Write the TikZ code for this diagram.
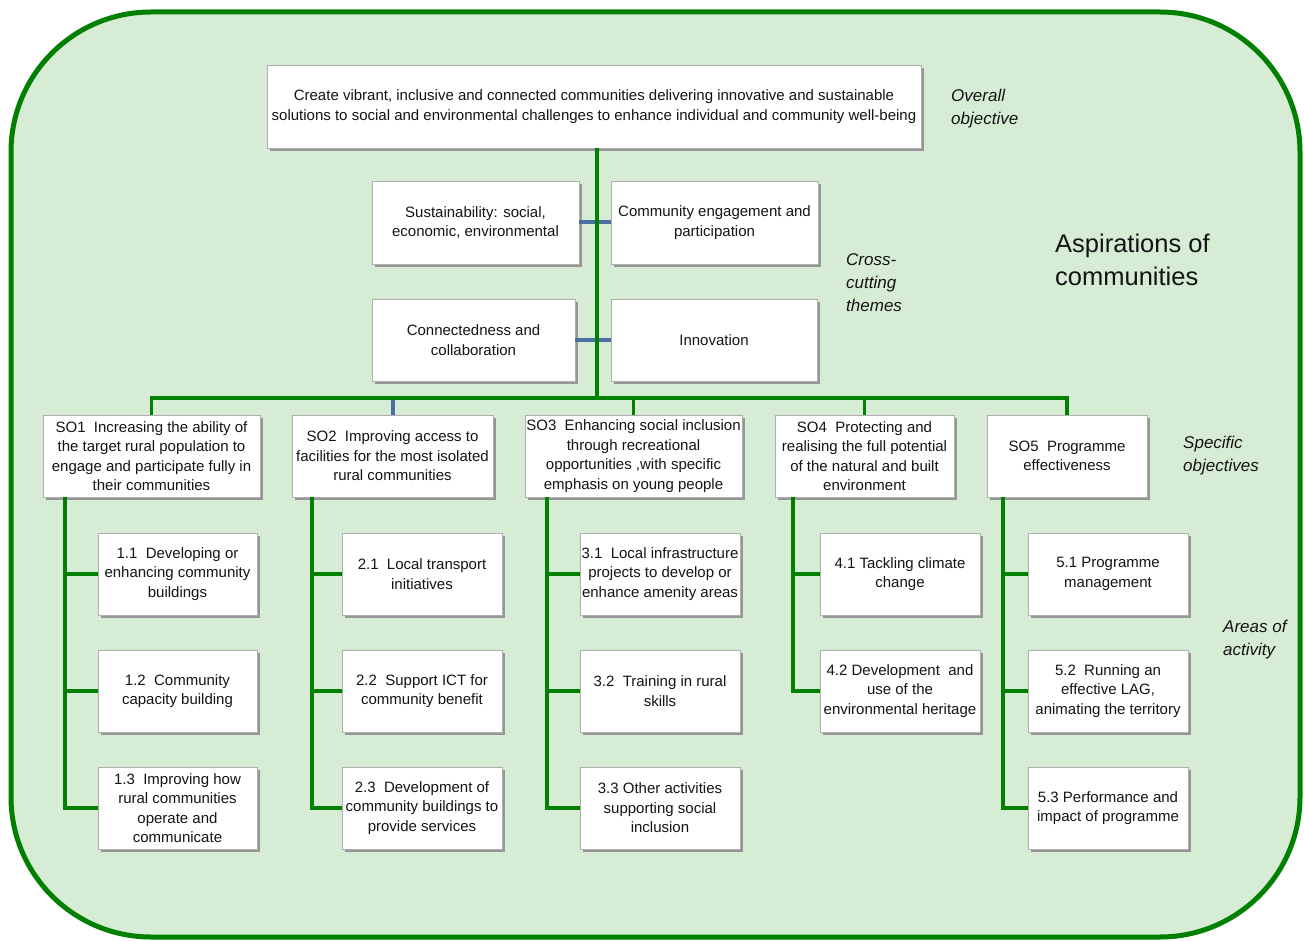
\documentclass[tikz,border=0pt]{standalone}
\usepackage{fontspec}
\setmainfont{Liberation Sans}
\usetikzlibrary{shadows}
\definecolor{bggreen}{RGB}{214,236,212}
\definecolor{lgreen}{RGB}{0,128,0}
\definecolor{lblue}{RGB}{74,112,160}
\definecolor{bordergray}{RGB}{175,175,175}
\definecolor{shadowgray}{RGB}{150,150,150}
\definecolor{txt}{RGB}{20,20,20}
\begin{document}
\begin{tikzpicture}[x=1pt,y=-1pt,
  box/.style={rectangle, draw=bordergray, line width=0.8pt, fill=white, inner sep=0pt, align=center, text=txt,
    font=\fontsize{15}{19.5}\selectfont,
    drop shadow={shadow xshift=3pt, shadow yshift=-3pt, fill=shadowgray, opacity=1}},
  sobox/.style={box, minimum height=82pt},
  actbox/.style={box, minimum width=160pt, minimum height=82pt},
  conn/.style={draw=lgreen, line width=3.5pt},
  themeconn/.style={draw=lblue, line width=4pt},
  lab/.style={align=left, anchor=west, font=\fontsize{17}{23}\selectfont\itshape, text=txt, inner sep=0pt}]
\useasboundingbox (0,0) rectangle (1304,941);
\fill[white] (0,0) rectangle (1304,941);
\draw[draw=lgreen, line width=5pt, fill=bggreen, rounded corners=140pt] (11,12) rectangle (1300,937);

% top objective
\node[box, minimum width=654pt, minimum height=83pt] (top) at (594,106.5)
  {Create vibrant, inclusive and connected communities delivering innovative and sustainable\\
   solutions to social and environmental challenges to enhance individual and community well-being};

% themes
\node[box, minimum width=207pt, minimum height=83pt] (sust) at (475.5,222.5) {Sustainability: social,\\economic, environmental};
\node[box, minimum width=207pt, minimum height=83pt] (comm) at (714.5,222.5) {Community engagement and\\participation};
\node[box, minimum width=203pt, minimum height=82pt] (conn) at (473.5,340) {Connectedness and\\collaboration};
\node[box, minimum width=206pt, minimum height=82pt] (innov) at (714,340) {Innovation};

% specific objectives
\node[sobox, minimum width=217pt] (so1) at (151.5,456) {SO1~~Increasing the ability of\\the target rural population to\\engage and participate fully in\\their communities};
\node[sobox, minimum width=201pt] (so2) at (392.5,456) {SO2~~Improving access to\\facilities for the most isolated\\rural communities};
\node[sobox, minimum width=217pt] (so3) at (633.5,456) {SO3~~Enhancing social inclusion\\through recreational\\opportunities ,with specific\\emphasis on young people};
\node[sobox, minimum width=179pt] (so4) at (864.5,456) {SO4~~Protecting and\\realising the full potential\\of the natural and built\\environment};
\node[sobox, minimum width=160pt] (so5) at (1067,456) {SO5~~Programme\\effectiveness};

% areas of activity
\node[actbox, minimum width=159pt] (b11) at (177.5,574) {1.1~~Developing or\\enhancing community\\buildings};
\node[actbox, minimum width=159pt] (b12) at (177.5,691) {1.2~~Community\\capacity building};
\node[actbox, minimum width=159pt] (b13) at (177.5,808) {1.3~~Improving how\\rural communities\\operate and\\communicate};

\node[actbox] (b21) at (422,574) {2.1~~Local transport\\initiatives};
\node[actbox] (b22) at (422,691) {2.2~~Support ICT for\\community benefit};
\node[actbox] (b23) at (422,808) {2.3~~Development of\\community buildings to\\provide services};

\node[actbox] (b31) at (660,574) {3.1~~Local infrastructure\\projects to develop or\\enhance amenity areas};
\node[actbox] (b32) at (660,691) {3.2~~Training in rural\\skills};
\node[actbox] (b33) at (660,808) {3.3 Other activities\\supporting social\\inclusion};

\node[actbox] (b41) at (900,574) {4.1 Tackling climate\\change};
\node[actbox] (b42) at (900,691) {4.2 Development~~and\\use of the\\environmental heritage};

\node[actbox] (b51) at (1108,574) {5.1 Programme\\management};
\node[actbox] (b52) at (1108,691) {5.2~~Running an\\effective LAG,\\animating the territory};
\node[actbox] (b53) at (1108,808) {5.3 Performance and\\impact of programme};

% side labels
\node[lab] (lovr) at (951,108.5) {Overall\\objective};
\node[lab] (lcross) at (846,283) {Cross-\\cutting\\themes};
\node[lab] (lspec) at (1183,456) {Specific\\objectives};
\node[lab] (lareas) at (1223,639.5) {Areas of\\activity};
\node[align=left, anchor=west, inner sep=0pt, text=txt, font=\fontsize{25.5}{33}\selectfont] (lasp) at (1055,259.5) {Aspirations of\\communities};

% coordinates
\coordinate (bus) at (597,398);
\coordinate (v1) at (65,0);
\coordinate (v2) at (312,0);
\coordinate (v3) at (547,0);
\coordinate (v4) at (793,0);
\coordinate (v5) at (1003,0);

% theme connectors (blue)
\draw[themeconn] (sust.east) -- (comm.west);
\draw[themeconn] (conn.east) -- (innov.west);
\draw[themeconn] (so2.north) -- (so2.north |- bus);

% main green connectors
\draw[conn] (top.south -| bus) -- (bus);
\draw[conn] (so1.north) -- (so1.north |- bus) -- (so5.north |- bus) -- (so5.north);
\draw[conn] (so3.north) -- (so3.north |- bus);
\draw[conn] (so4.north) -- (so4.north |- bus);

% columns
\draw[conn] (so1.south -| v1) |- (b13.west);
\draw[conn] (b11.west -| v1) -- (b11.west);
\draw[conn] (b12.west -| v1) -- (b12.west);

\draw[conn] (so2.south -| v2) |- (b23.west);
\draw[conn] (b21.west -| v2) -- (b21.west);
\draw[conn] (b22.west -| v2) -- (b22.west);

\draw[conn] (so3.south -| v3) |- (b33.west);
\draw[conn] (b31.west -| v3) -- (b31.west);
\draw[conn] (b32.west -| v3) -- (b32.west);

\draw[conn] (so4.south -| v4) |- (b42.west);
\draw[conn] (b41.west -| v4) -- (b41.west);

\draw[conn] (so5.south -| v5) |- (b53.west);
\draw[conn] (b51.west -| v5) -- (b51.west);
\draw[conn] (b52.west -| v5) -- (b52.west);
\end{tikzpicture}
\end{document}
